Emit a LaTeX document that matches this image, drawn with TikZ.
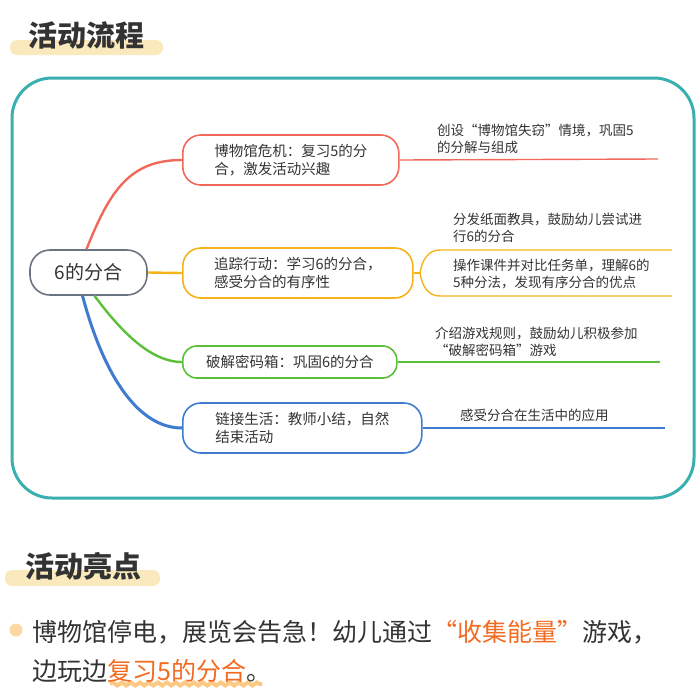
\documentclass[tikz,border=0pt]{standalone}
\usepackage{fontspec}
\setmainfont{Noto Sans CJK SC}
\usetikzlibrary{decorations.pathmorphing}
\definecolor{txt}{HTML}{333333}
\definecolor{teal1}{HTML}{3AAFB0}
\definecolor{cred}{HTML}{F0695A}
\definecolor{corg}{HTML}{F5B31A}
\definecolor{cgrn}{HTML}{5BBF3A}
\definecolor{cblu}{HTML}{3F7BD0}
\definecolor{hl}{HTML}{FBE9BE}
\definecolor{orgt}{HTML}{F26B21}
\definecolor{gry}{HTML}{6B7280}
\begin{document}
\begin{tikzpicture}[x=1pt,y=-1pt,
  every node/.style={text=txt,inner sep=0pt},
  topic/.style={draw,line width=1.6pt,rounded corners=18pt,minimum height=50pt,anchor=west,align=left,font=\fontsize{14.5}{18}\selectfont,inner xsep=12pt},
  note/.style={anchor=west,align=left,font=\fontsize{13.5}{17}\selectfont},
  branch/.style={line width=2.4pt}]
\useasboundingbox (0,0) rectangle (700,696);
% title 1
\fill[hl,rounded corners=7pt] (10,40) rectangle (163,55);
\node[anchor=west,font=\fontsize{29}{30}\selectfont\bfseries] (t1) at (28,35) {活动流程};
% frame
\draw[teal1,line width=3pt,rounded corners=40pt] (12,78) rectangle (694,498);
% root
\node[draw=gry,line width=1.6pt,rounded corners=20pt,minimum width=117pt,minimum height=45pt,font=\fontsize{19}{20}\selectfont] (root) at (88.5,272.5) {6的分合};
% topics
\node[topic,draw=cred,minimum width=216pt] (b1) at (182,160) {博物馆危机：复习5的分\\合，激发活动兴趣};
\node[topic,draw=corg,minimum width=230pt] (b2) at (182,273) {追踪行动：学习6的分合，\\感受分合的有序性};
\node[topic,draw=cgrn,minimum width=214pt,minimum height=32pt,rounded corners=14pt] (b3) at (182,362) {破解密码箱：巩固6的分合};
\node[topic,draw=cblu,minimum width=239pt] (b4) at (182,428) {链接生活：教师小结，自然\\结束活动};
% root connectors
\draw[cred,branch] ([xshift=-2pt]root.north) .. controls (110,190) and (130,160) .. (b1.west);
\draw[corg,branch] (root.east) -- (b2.west);
\draw[cgrn,branch] ([xshift=6pt]root.south) .. controls (120,330) and (150,362) .. (b3.west);
\draw[cblu,line width=3pt] ([xshift=-6pt]root.south) .. controls (105,380) and (140,428) .. (b4.west);
% right lines
\coordinate (e1) at (658,159);
\draw[cred,line width=1.4pt] (b1.east) -- (e1);
\node[note] (n1) at (437,139) {创设“博物馆失窃”情境，巩固5\\的分解与组成};
\coordinate (k) at (420,273);
\coordinate (e2a) at (672,250);
\coordinate (e2b) at (672,296);
\draw[corg,line width=1.4pt] (b2.east) -- (k);
\draw[corg,line width=1.4pt] (e2a) -- (440,250) .. controls (428,250) and (422,260) .. (k) .. controls (422,286) and (428,296) .. (440,296) -- (e2b);
\node[note] (n2a) at (453,228) {分发纸面教具，鼓励幼儿尝试进\\行6的分合};
\node[note] (n2b) at (453,274) {操作课件并对比任务单，理解6的\\5种分法，发现有序分合的优点};
\coordinate (e3) at (660,362);
\draw[cgrn,line width=1.4pt] (b3.east) -- (e3);
\node[note] (n3) at (435,342) {介绍游戏规则，鼓励幼儿积极参加\\“破解密码箱”游戏};
\coordinate (e4) at (665,428);
\draw[cblu,line width=1.4pt] (b4.east) -- (e4);
\node[note] (n4) at (460,415) {感受分合在生活中的应用};
% title 2
\fill[hl,rounded corners=7pt] (5,570) rectangle (160,586);
\node[anchor=west,font=\fontsize{29}{30}\selectfont\bfseries] (t2) at (25,566) {活动亮点};
% bullet
\fill[hl!80!orange!90] (16,630) circle (6.5pt);
\draw[hl!70!orange,line width=4pt,decorate,decoration={snake,amplitude=1.5pt,segment length=9pt}] (110,684) -- (262,684);
\node[anchor=west,font=\fontsize{25}{30}\selectfont] (p1) at (32,632) {博物馆停电，展览会告急！幼儿通过\textcolor{orgt}{“收集能量”}游戏，};
\node[anchor=west,font=\fontsize{25}{30}\selectfont] (p2) at (32,671) {边玩边\textcolor{orgt}{复习5的分合}。};
\end{tikzpicture}
\end{document}
